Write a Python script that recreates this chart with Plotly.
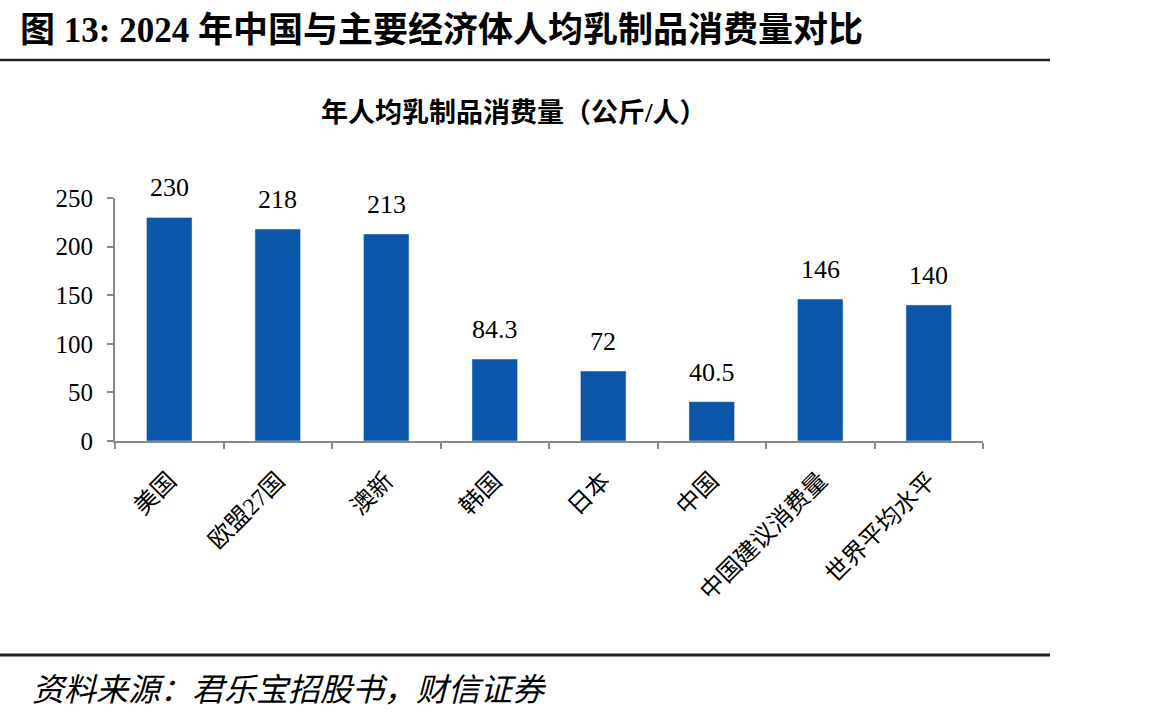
import plotly.graph_objects as go

categories = ["美国", "欧盟27国", "澳新", "韩国", "日本", "中国", "中国建议消费量", "世界平均水平"]
values = [230, 218, 213, 84.3, 72, 40.5, 146, 140]
value_labels = ["230", "218", "213", "84.3", "72", "40.5", "146", "140"]
y_ticks = [0, 50, 100, 150, 200, 250]

SERIF = "Liberation Serif, Times New Roman, Noto Sans CJK SC"
CJK = "Liberation Serif, Noto Sans CJK SC"
BAR = "#0b56a8"
AXIS = "#898989"

W, H = 1156, 721
L, R, T, B = 115, 983, 198, 441
pw, ph = R - L, B - T

def px(x):
    return (x - L) / pw

def py(y):
    return (B - y) / ph

fig = go.Figure()
fig.add_trace(go.Bar(x=categories, y=values, marker_color=BAR, width=0.42, hoverinfo="skip"))

for c, v, t in zip(categories, values, value_labels):
    fig.add_annotation(x=c, y=v, text=t, showarrow=False, yanchor="bottom", yshift=13,
                       font=dict(family=SERIF, size=26, color="#000"))

fig.add_annotation(xref="paper", yref="paper", x=px(18), y=py(30), xanchor="left", yanchor="middle",
                   text="<b>图 13: 2024 年中国与主要经济体人均乳制品消费量对比</b>", showarrow=False,
                   font=dict(family=CJK, size=35, color="#000"))
fig.add_annotation(xref="paper", yref="paper", x=px(514), y=py(113), xanchor="center", yanchor="middle",
                   text="<b>年人均乳制品消费量（公斤/人）</b>", showarrow=False,
                   font=dict(family=CJK, size=27, color="#000"))
fig.add_annotation(xref="paper", yref="paper", x=px(30), y=py(690), xanchor="left", yanchor="middle",
                   text="<i>资料来源：君乐宝招股书，财信证券</i>", showarrow=False,
                   font=dict(family=CJK, size=32, color="#000"))

fig.add_shape(type="line", xref="paper", yref="paper", x0=px(0), x1=px(1050), y0=py(60), y1=py(60),
              line=dict(color="#222", width=2.5))
fig.add_shape(type="line", xref="paper", yref="paper", x0=px(0), x1=px(1050), y0=py(655), y1=py(655),
              line=dict(color="#222", width=3))

fig.update_layout(
    width=W, height=H, autosize=False,
    margin=dict(l=L, r=W - R, t=T, b=H - B, pad=0),
    paper_bgcolor="white", plot_bgcolor="white",
    showlegend=False,
    font=dict(family=SERIF, size=22, color="#000"),
    xaxis=dict(showline=True, linecolor=AXIS, linewidth=2, ticks="outside", tickcolor=AXIS,
               ticklen=6, tickwidth=2, tickson="boundaries", tickangle=-45, ticklabelstandoff=14,
               tickfont=dict(family=CJK, size=24, color="#000"), showgrid=False, fixedrange=True),
    yaxis=dict(range=[0, 250], tickvals=y_ticks, showline=True, linecolor=AXIS, linewidth=2,
               ticks="outside", tickcolor=AXIS, ticklen=6, tickwidth=2, showgrid=False, zeroline=False,
               tickfont=dict(family=SERIF, size=25, color="#000"), fixedrange=True, ticklabelstandoff=9),
)

fig.write_html("out.html")
